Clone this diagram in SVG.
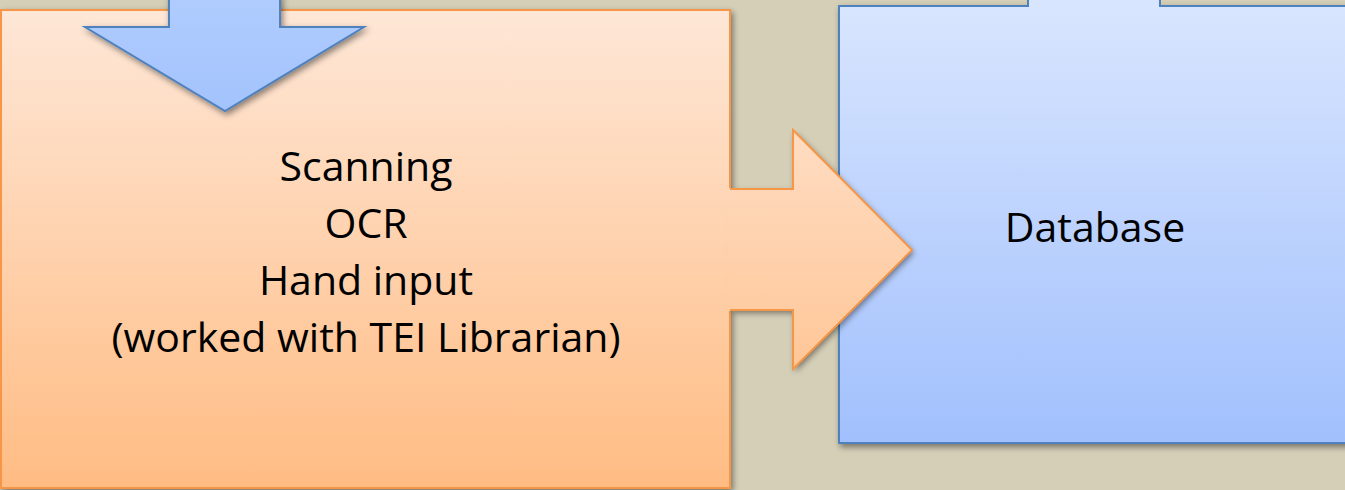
<svg xmlns="http://www.w3.org/2000/svg" width="1345" height="490" viewBox="0 0 1345 490">
<style>
  .lbl { font-family: "Open Sans", "Liberation Sans", sans-serif; font-size: 41px; fill: #000; text-anchor: middle; }
  .orange { stroke: #f79646; stroke-width: 2; }
  .blue { stroke: #4f81bd; stroke-width: 2; }
</style>
<defs>
  <linearGradient id="gO" gradientUnits="userSpaceOnUse" x1="0" y1="10" x2="0" y2="488">
    <stop offset="0" stop-color="#fee7d7"/>
    <stop offset="1" stop-color="#ffbc83"/>
  </linearGradient>
  <linearGradient id="gB" x1="0" y1="0" x2="0" y2="1">
    <stop offset="0" stop-color="#d8e5fe"/>
    <stop offset="1" stop-color="#a1c0fd"/>
  </linearGradient>
  <linearGradient id="gBArrow" gradientUnits="userSpaceOnUse" x1="0" y1="0" x2="0" y2="111">
    <stop offset="0" stop-color="#b0ccfe"/>
    <stop offset="1" stop-color="#a3c3fd"/>
  </linearGradient>
  <filter id="sh" x="-10%" y="-10%" width="120%" height="130%">
    <feDropShadow dx="2" dy="3" stdDeviation="3" flood-color="#000" flood-opacity="0.45"/>
  </filter>
</defs>
<rect width="1345" height="490" fill="#d5cfb8"/>

<g id="node-database">
  <rect x="839" y="6" width="520" height="437" fill="url(#gB)" class="blue" filter="url(#sh)"/>
  <rect x="1029" y="0" width="130" height="8" fill="#d8e5fe"/>
  <path d="M1028,0 V6 M1160,0 V6" class="blue" fill="none"/>
  <text class="lbl" x="1095" y="242">Database</text>
</g>

<g id="node-processing">
  <rect x="1" y="10" width="729" height="478" fill="url(#gO)" class="orange" filter="url(#sh)"/>
  <text class="lbl" x="366" y="181">Scanning</text>
  <text class="lbl" x="366" y="238">OCR</text>
  <text class="lbl" x="366" y="295">Hand input</text>
  <text class="lbl" x="366" y="352">(worked with TEI Librarian)</text>
</g>

<g id="connectors">
  <g id="arrow-in" filter="url(#sh)">
    <polygon points="169,-5 280,-5 280,27 364,27 225,111 85,27 169,27" fill="url(#gBArrow)" class="blue"/>
  </g>
  <g id="arrow-to-db">
    <polygon points="731,189 793,189 793,130 912,250 793,369 793,310 731,310" fill="url(#gO)" filter="url(#sh)"/>
    <rect x="727" y="188" width="8" height="123" fill="url(#gO)"/>
    <polyline points="730,189 793,189 793,130 912,250 793,369 793,310 730,310" fill="none" class="orange"/>
  </g>
</g>
</svg>
